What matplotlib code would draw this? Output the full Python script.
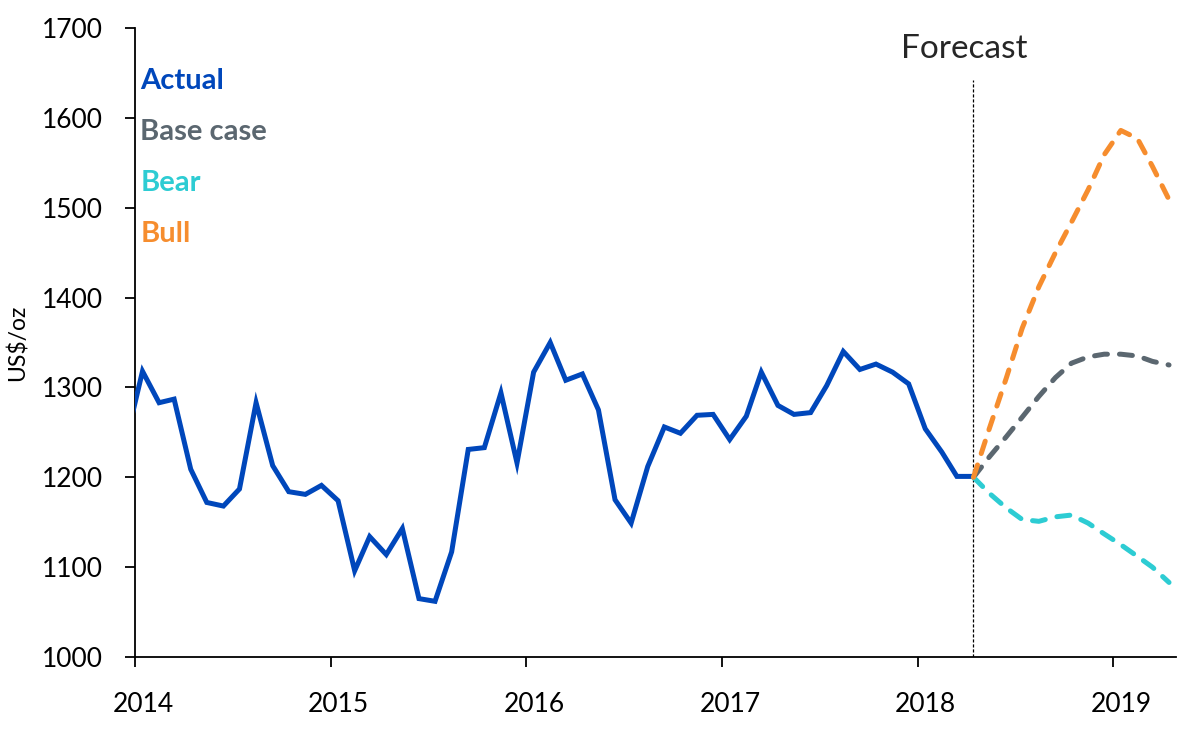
import pandas as pd
import matplotlib
matplotlib.use("Agg")
import matplotlib.pyplot as plt
import matplotlib.dates as mdates
import matplotlib.transforms as mtransforms

# monthly gold price, US$/oz (Dec 2013 - Apr 2018)
actual_start = "2013-12-01"
actual = [1240, 1318, 1283, 1287, 1209, 1172, 1168, 1187, 1283, 1213,
          1184, 1181, 1191, 1174, 1096, 1134, 1114, 1143, 1065, 1062,
          1117, 1231, 1233, 1294, 1216, 1317, 1350, 1308, 1315, 1275,
          1175, 1149, 1212, 1256, 1249, 1269, 1270, 1242, 1268, 1317,
          1280, 1270, 1272, 1302, 1340, 1320, 1326, 1317, 1304, 1254,
          1228, 1201, 1201]

# scenarios, Apr 2018 - Apr 2019
forecast_start = "2018-04-01"
base_case = [1200, 1223, 1245, 1267, 1290, 1311, 1327, 1334, 1337, 1337, 1335, 1329, 1325]
bear = [1200, 1182, 1166, 1153, 1151, 1156, 1158, 1149, 1137, 1125, 1112, 1100, 1083]
bull = [1200, 1255, 1310, 1366, 1412, 1450, 1484, 1520, 1559, 1586, 1577, 1546, 1509]

series_names = ["Actual", "Base case", "Bear", "Bull"]
colors = {"Actual": "#0047BB", "Base case": "#5B6770",
          "Bear": "#2DCCD3", "Bull": "#F68D2E"}

y_ticks = [1000, 1100, 1200, 1300, 1400, 1500, 1600, 1700]

half_month = pd.Timedelta(days=14)
actual_dates = pd.date_range(actual_start, periods=len(actual), freq="MS") + half_month
fc_dates = pd.date_range(forecast_start, periods=len(bull), freq="MS") + half_month

plt.rcParams["font.family"] = ["Lato", "DejaVu Sans"]

fig = plt.figure(figsize=(12, 7.31), dpi=100)
ax = fig.add_axes([0.1125, 0.1012, 0.8675, 0.8605])

ax.plot(actual_dates, actual, color=colors["Actual"], lw=3.6,
        solid_joinstyle="miter", zorder=3)
for name, vals in [("Base case", base_case), ("Bear", bear), ("Bull", bull)]:
    ax.plot(fc_dates, vals, color=colors[name], lw=3.6, dashes=(2.6, 2.4),
            dash_capstyle="round", zorder=4)

# forecast marker
ax.axvline(fc_dates[0], ymin=0, ymax=0.917, color="black", lw=0.9,
           dashes=(2.5, 1.5), zorder=2)
ax.annotate("Forecast", xy=(fc_dates[0], 1.0), xycoords=("data", "axes fraction"),
            xytext=(-7, -15), textcoords="offset points", ha="center", va="center",
            fontsize=24, color="#262626")

# coloured labels as legend
for i, name in enumerate(series_names):
    ax.text(0.005, 0.915 - i * 0.081, name, transform=ax.transAxes,
            color=colors[name], fontsize=21, fontweight="bold", va="center", ha="left")

ax.set_ylim(1000, 1700)
ax.set_yticks(y_ticks)
ax.set_xlim(pd.Timestamp("2014-01-01"), pd.Timestamp("2019-04-28"))
ax.xaxis.set_major_locator(mdates.YearLocator())
ax.xaxis.set_major_formatter(mdates.DateFormatter("%Y"))

ax.set_ylabel("US$/oz", fontsize=16.5)
ax.yaxis.set_label_coords(-0.102, 0.5)
ax.tick_params(axis="both", labelsize=19, length=7, width=1.3, direction="out")
ax.tick_params(axis="y", pad=16)
ax.tick_params(axis="x", pad=18)

# year labels sit a little right of their ticks
shift = mtransforms.ScaledTranslation(0.08, 0, fig.dpi_scale_trans)
for lab in ax.get_xticklabels():
    lab.set_transform(lab.get_transform() + shift)

for side in ["top", "right"]:
    ax.spines[side].set_visible(False)
for side in ["left", "bottom"]:
    ax.spines[side].set_linewidth(1.3)

fig.savefig("out.png", dpi=100)
